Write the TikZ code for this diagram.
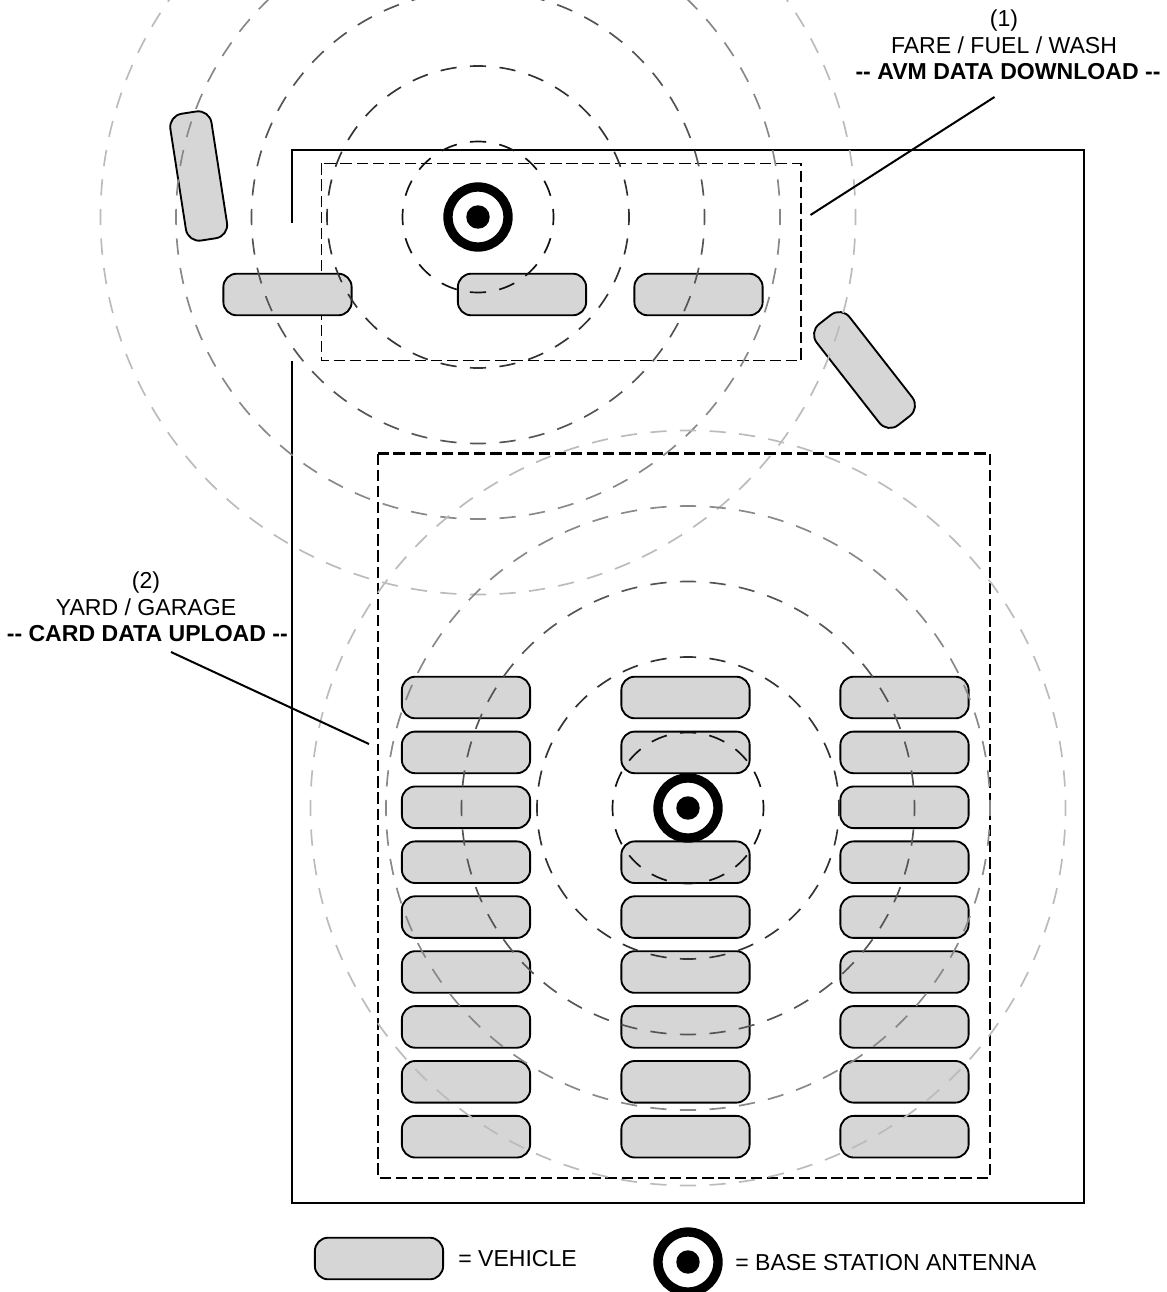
\documentclass[tikz,border=0pt]{standalone}
\usepackage{fontspec}
\setmainfont{Liberation Sans}
\newcommand{\hh}{-\kern0pt-}
\tikzset{
  x=0.75pt,y=-0.75pt,
  vehicle/.style={draw=black,fill=vehgray,line width=1.4pt,rounded corners=10pt,minimum width=96.2pt,minimum height=31.2pt,inner sep=0pt,outer sep=0pt},
  ring/.style={circle,draw=black,fill=white,line width=7pt,minimum size=45pt,inner sep=0pt,outer sep=0pt},
  hub/.style={circle,fill=black,minimum size=17.6pt,inner sep=0pt,outer sep=0pt},
  wave/.style={line width=1.25pt,dash pattern=on 12.2pt off 10.04pt,dash phase=6.1pt},
  label/.style={font=\fontsize{17.3}{19.8}\selectfont,align=center,inner sep=0pt},
  legend/.style={font=\fontsize{17.3}{19.8}\selectfont,anchor=base west,inner sep=0pt},
  leader/.style={line width=1.5pt,black},
  site/.style={dashed,dash pattern=on 8.5pt off 3.6pt}
}
\definecolor{vehgray}{HTML}{D6D6D6}
\definecolor{waveA}{HTML}{111111}
\definecolor{waveB}{HTML}{333333}
\definecolor{waveC}{HTML}{555555}
\definecolor{waveD}{HTML}{888888}
\definecolor{waveE}{HTML}{BBBBBB}
\begin{document}
\begin{tikzpicture}
\clip (0,0) rectangle (1167,1292);
% outer lot
\draw[line width=1.5pt,black] (292,223) -- (292,150) -- (1084,150) -- (1084,1203) -- (292,1203) -- (292,361);
% dashed areas
\draw[site,line width=1.05pt] (321.5,163.3) rectangle (800.8,360.6);
\draw[site,line width=1.7pt] (377.8,453.6) rectangle (990,1177.8);
% vehicles
\node[vehicle] (up1) at (287.5,294.5) {};
\node[vehicle] (up2) at (522,294.5) {};
\node[vehicle] (up3) at (698.5,294.5) {};
\node[vehicle,rotate=-81.2] (tilt1) at (198.7,176) {};
\node[vehicle,rotate=-52] (tilt2) at (864.5,370) {};
\foreach \c/\xx in {1/466,3/904.5}
  \foreach \r in {0,...,8}
    \node[vehicle] (yard-\c-\r) at (\xx,{697.5+54.9*\r}) {};
\foreach \r in {0,1,3,4,5,6,7,8}
  \node[vehicle] (yard-2-\r) at (685.5,{697.5+54.9*\r}) {};
% radio waves
\coordinate (antA) at (478,217);
\coordinate (antB) at (688,808);
\foreach \cc in {antA,antB}
  \foreach \rad/\col in {377.5/waveE,302/waveD,226.5/waveC,151/waveB,75.5/waveA}
    \draw[wave,draw=\col] (\cc) circle[radius=\rad];
% antennas
\node[ring] (ringA) at (antA) {};
\node[hub] (hubA) at (antA) {};
\node[ring] (ringB) at (antB) {};
\node[hub] (hubB) at (antB) {};
% labels
\node[label] (lab1) at (1004,45) {(1)\\FARE / FUEL / WASH\\\hspace{6pt}\textbf{\hh{} AVM DATA DOWNLOAD \hh}};
\node[label] (lab2) at (146,607) {(2)\\YARD / GARAGE\\\hspace{2pt}\textbf{\hh{} CARD DATA UPLOAD \hh}};
\coordinate (lead1a) at (994.5,97);
\coordinate (lead1b) at (810.5,215);
\coordinate (lead2a) at (171,652);
\coordinate (lead2b) at (369,744);
\draw[leader] (lead1a) -- (lead1b);
\draw[leader] (lead2a) -- (lead2b);
% legend
\node[vehicle] (legV) at (379,1258.5) {};
\node[legend] (legVt) at (458,1266) {= VEHICLE};
\node[ring] (legR) at (688,1262) {};
\node[hub] (legH) at (688,1262) {};
\node[legend] (legRt) at (735,1270) {= BASE STATION ANTENNA};
\end{tikzpicture}
\end{document}
